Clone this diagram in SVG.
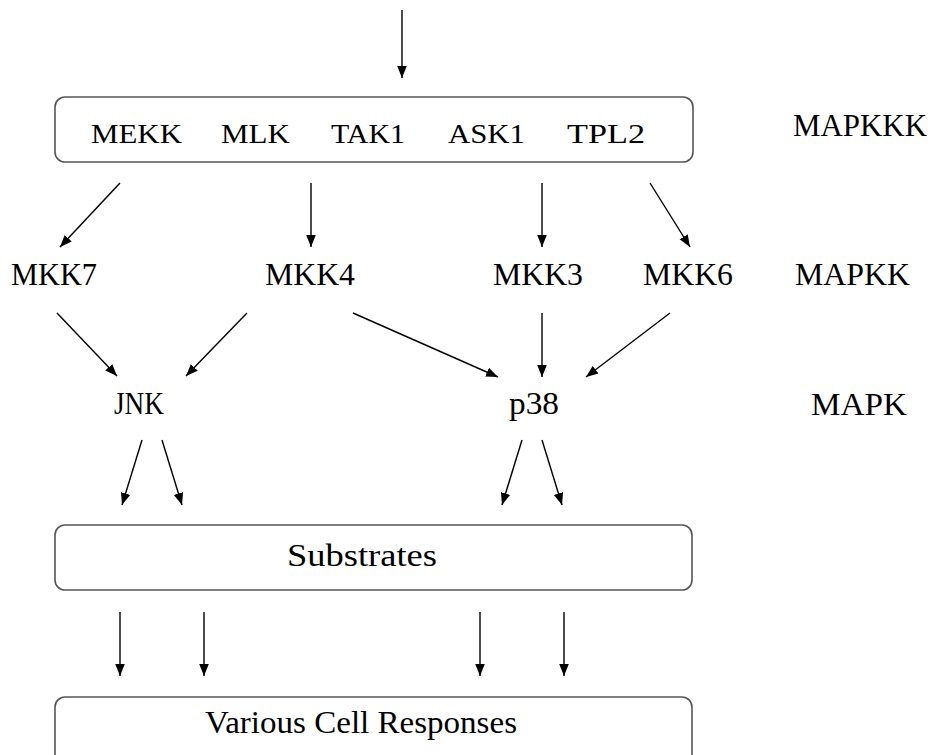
<svg xmlns="http://www.w3.org/2000/svg" width="938" height="755" viewBox="0 0 938 755">
<style>
.box{fill:#fff;stroke:#555;stroke-width:1.6}
.t{font-family:"Liberation Serif","Times New Roman",serif;font-size:31px;fill:#000}
.s{font-family:"Liberation Serif","Times New Roman",serif;font-size:28px;fill:#000}
.c line{stroke:#000;stroke-width:1.4;marker-end:url(#ah)}
</style>
<defs>
<marker id="ah" markerUnits="userSpaceOnUse" markerWidth="12" markerHeight="12" viewBox="0 0 12 12" refX="12" refY="6" orient="auto">
<path d="M0,1.2 L12,6 L0,10.8 Z" fill="#000"/>
</marker>
</defs>
<rect width="938" height="755" fill="#fff"/>
<g class="c" id="connectors">
<line x1="402" y1="10" x2="402" y2="78"/>
<line x1="120" y1="183" x2="60" y2="247"/>
<line x1="311" y1="183" x2="311" y2="247"/>
<line x1="542" y1="183" x2="542" y2="247"/>
<line x1="650" y1="183" x2="690" y2="247"/>
<line x1="57" y1="313" x2="117" y2="376"/>
<line x1="247" y1="313" x2="186" y2="376"/>
<line x1="353" y1="313" x2="498" y2="377"/>
<line x1="542" y1="313" x2="542" y2="377"/>
<line x1="670" y1="313" x2="586" y2="377"/>
<line x1="142" y1="440" x2="122" y2="505"/>
<line x1="162" y1="440" x2="182" y2="505"/>
<line x1="522" y1="440" x2="502" y2="505"/>
<line x1="542" y1="440" x2="562" y2="505"/>
<line x1="120" y1="612" x2="120" y2="676"/>
<line x1="204" y1="612" x2="204" y2="676"/>
<line x1="480" y1="612" x2="480" y2="676"/>
<line x1="564" y1="612" x2="564" y2="676"/>
</g>
<g id="mapkkk-box">
<rect class="box" x="55" y="97" width="638" height="65" rx="10"/>
<text class="s" x="91" y="143" textLength="91" lengthAdjust="spacingAndGlyphs">MEKK</text>
<text class="s" x="221" y="143" textLength="69" lengthAdjust="spacingAndGlyphs">MLK</text>
<text class="s" x="331" y="143" textLength="74" lengthAdjust="spacingAndGlyphs">TAK1</text>
<text class="s" x="448" y="143" textLength="77" lengthAdjust="spacingAndGlyphs">ASK1</text>
<text class="s" x="567" y="143" textLength="78" lengthAdjust="spacingAndGlyphs">TPL2</text>
</g>
<g id="label-mapkkk"><text class="t" x="793" y="136" textLength="134" lengthAdjust="spacingAndGlyphs">MAPKKK</text></g>
<g id="mkk7"><text class="t" x="11" y="285" textLength="86" lengthAdjust="spacingAndGlyphs">MKK7</text></g>
<g id="mkk4"><text class="t" x="265" y="285" textLength="90" lengthAdjust="spacingAndGlyphs">MKK4</text></g>
<g id="mkk3"><text class="t" x="493" y="285" textLength="90" lengthAdjust="spacingAndGlyphs">MKK3</text></g>
<g id="mkk6"><text class="t" x="643" y="285" textLength="90" lengthAdjust="spacingAndGlyphs">MKK6</text></g>
<g id="label-mapkk"><text class="t" x="795" y="285" textLength="115" lengthAdjust="spacingAndGlyphs">MAPKK</text></g>
<g id="jnk"><text class="t" x="114" y="414" textLength="50" lengthAdjust="spacingAndGlyphs">JNK</text></g>
<g id="p38"><text class="t" x="509" y="414" textLength="50" lengthAdjust="spacingAndGlyphs">p38</text></g>
<g id="label-mapk"><text class="t" x="811" y="415" textLength="96" lengthAdjust="spacingAndGlyphs">MAPK</text></g>
<g id="substrates">
<rect class="box" x="55" y="525" width="637" height="65" rx="10"/>
<text class="t" x="287" y="566" textLength="150" lengthAdjust="spacingAndGlyphs">Substrates</text>
</g>
<g id="responses">
<rect class="box" x="55" y="697" width="637" height="80" rx="10"/>
<text class="t" x="205" y="733" textLength="312" lengthAdjust="spacingAndGlyphs">Various Cell Responses</text>
</g>
</svg>
